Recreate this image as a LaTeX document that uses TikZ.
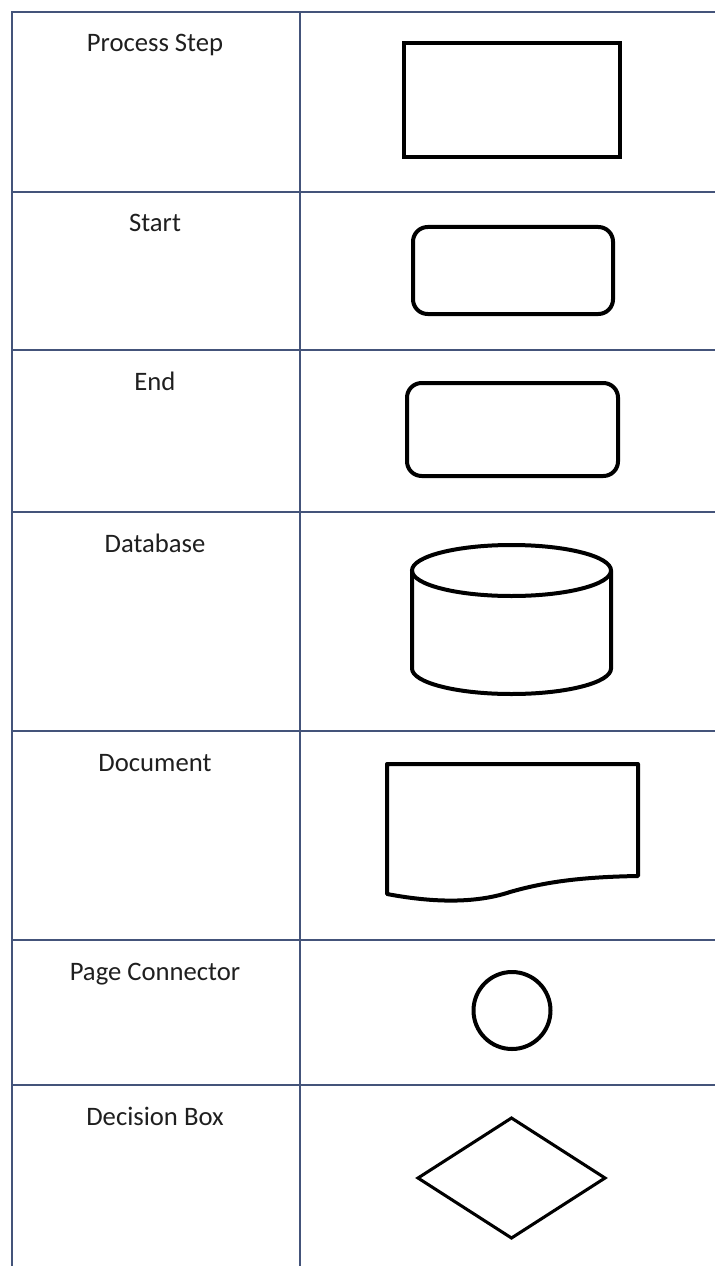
\documentclass[tikz,border=0pt]{standalone}
\usepackage{fontspec}
\setmainfont{Carlito}
\usetikzlibrary{positioning, shapes.geometric}
\definecolor{gridblue}{RGB}{68,84,122}
\tikzset{grid/.style={draw=gridblue, line width=1.3pt}}
\tikzset{rowlab/.style={anchor=base, inner sep=0, font=\fontsize{20}{24}\selectfont, text=black!88}}
\tikzset{sym/.style={draw, line width=2.3pt, inner sep=0, outer sep=0}}
\tikzset{heavy/.style={line width=3pt}}
\tikzset{symbox/.style 2 args={sym, rectangle, minimum width=#1, minimum height=#2}}

\begin{document}
\begin{tikzpicture}[x=0.75pt, y=-0.75pt]
	\useasboundingbox (0,0) rectangle (715,1266);

	% table rules
	\draw[grid] (12,1266) -- (12,12) -- (715,12);
	\draw[grid] (300,12) -- (300,1266);
	\foreach \y in {192,350,512,731,940,1085}
		\draw[grid] (12,\y) -- (715,\y);

	% row labels, baseline 40 below each rule
	\foreach \y/\txt/\nm in {12/Process Step/proc, 192/Start/start, 350/End/end,
			512/Database/db, 731/Document/doc, 940/Page Connector/conn, 1085/Decision Box/dec}
		\node[rowlab] (lab-\nm) at (155,\y+40) {\txt};

	% symbols
	\node[symbox={162pt}{85.5pt}] (proc) at (512,100) {};
	\node[symbox={150pt}{65.25pt}, heavy, rounded corners=11pt] (start) at (513,270.5) {};
	\node[symbox={158.25pt}{69.75pt}, heavy, rounded corners=11pt] (end) at (512.5,429.5) {};

	\draw[sym, heavy] (412,570.5) -- (412,668.5)
		arc[start angle=180, end angle=0, x radius=99.5, y radius=25.5] -- (611,570.5);
	\draw[sym, heavy] (511.5,570.5) ellipse[x radius=99.5, y radius=25.5];

	\draw[sym, heavy, line join=round] (387,764) -- (638,764) -- (638,876)
		.. controls (580,877) and (545,882) .. (510,892)
		.. controls (480,902) and (440,904) .. (387,894) -- cycle;

	\node[sym, heavy, circle, minimum size=57.75pt] (conn) at (512,1010.5) {};
	\node[sym, diamond, minimum width=140.25pt, minimum height=90pt] (dec) at (511.5,1178) {};
\end{tikzpicture}
\end{document}
